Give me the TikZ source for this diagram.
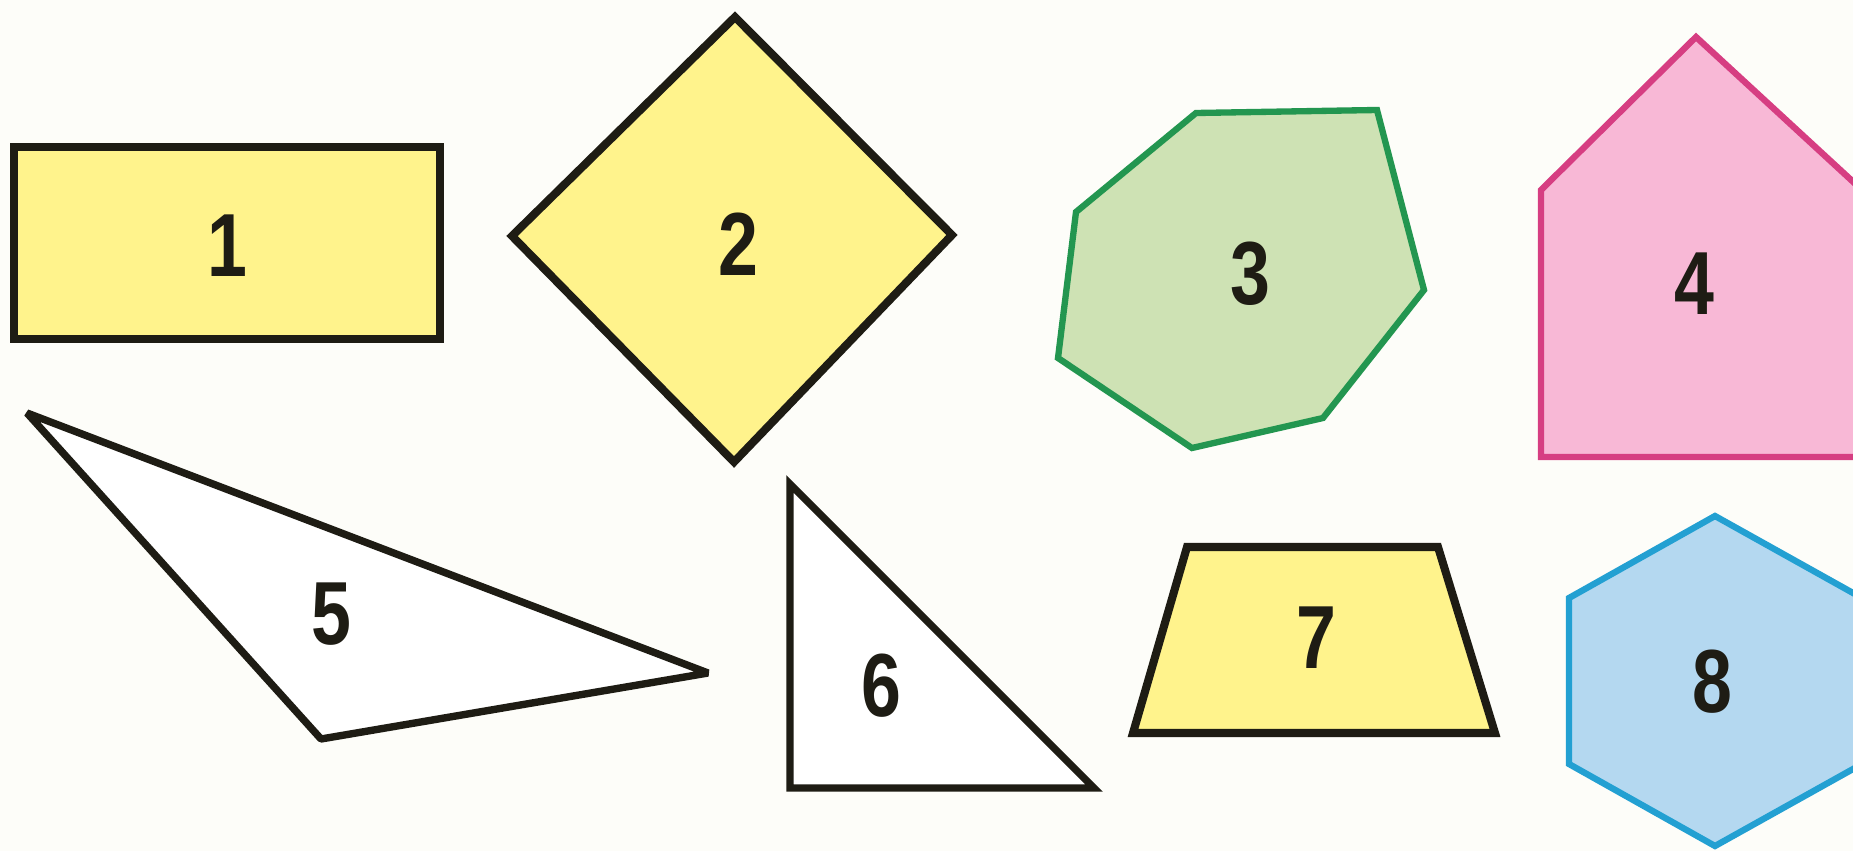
\documentclass[tikz,border=0pt]{standalone}
\usepackage{fontspec}
\setmainfont{Liberation Sans}[FakeStretch=0.8]
\definecolor{bg}{RGB}{253,253,249}
\definecolor{yel}{RGB}{255,243,140}
\definecolor{grfill}{RGB}{206,226,180}
\definecolor{grline}{RGB}{35,150,80}
\definecolor{pkfill}{RGB}{248,184,214}
\definecolor{pkline}{RGB}{214,62,130}
\definecolor{blfill}{RGB}{180,216,240}
\definecolor{blline}{RGB}{35,160,210}
\definecolor{ink}{RGB}{30,28,20}
\tikzset{
  blk/.style={draw=ink, line width=4.6pt, line join=miter},
  col/.style={line width=3.6pt, line join=miter},
  num/.style={font=\fontsize{51}{55}\selectfont\bfseries, text=ink, inner sep=0pt}
}
\begin{document}
\begin{tikzpicture}[x=0.02cm, y=-0.02cm]
\useasboundingbox[fill=bg] (0,0) rectangle (1853,851);
% 1 rectangle
\draw[blk, fill=yel] (14,147) rectangle (440,339);
\node[num] (n1) at (227,246) {1};
% 2 diamond
\draw[blk, fill=yel] (512,236) -- (735,17) -- (952,235) -- (734,462) -- cycle;
\node[num] (n2) at (738,244) {2};
% 3 heptagon
\draw[col, draw=grline, fill=grfill] (1196,113) -- (1377,110) -- (1424,290) -- (1323,418) -- (1192,448) -- (1058,358) -- (1076,212) -- cycle;
\node[num] (n3) at (1250,274) {3};
% 4 pentagon
\draw[col, draw=pkline, fill=pkfill] (1696,37) -- (1862,190) -- (1862,457) -- (1541,457) -- (1541,190) -- cycle;
\node[num] (n4) at (1694,284) {4};
% 5 triangle
\draw[blk, line width=4.2pt, line join=bevel, fill=white] (27,413) -- (708,673) -- (321,739) -- cycle;
\node[num] (n5) at (331,614) {5};
% 6 right triangle
\draw[blk, line width=4.2pt, fill=white] (790,484) -- (1094,788) -- (790,788) -- cycle;
\node[num] (n6) at (881,686) {6};
% 7 trapezoid
\draw[blk, fill=yel] (1187,547) -- (1438,547) -- (1495,733) -- (1133,733) -- cycle;
\node[num] (n7) at (1316,638) {7};
% 8 hexagon
\draw[col, draw=blline, fill=blfill] (1715,516) -- (1862,598) -- (1862,764) -- (1715,846) -- (1569,764) -- (1569,598) -- cycle;
\node[num] (n8) at (1712,682) {8};
\end{tikzpicture}
\end{document}
